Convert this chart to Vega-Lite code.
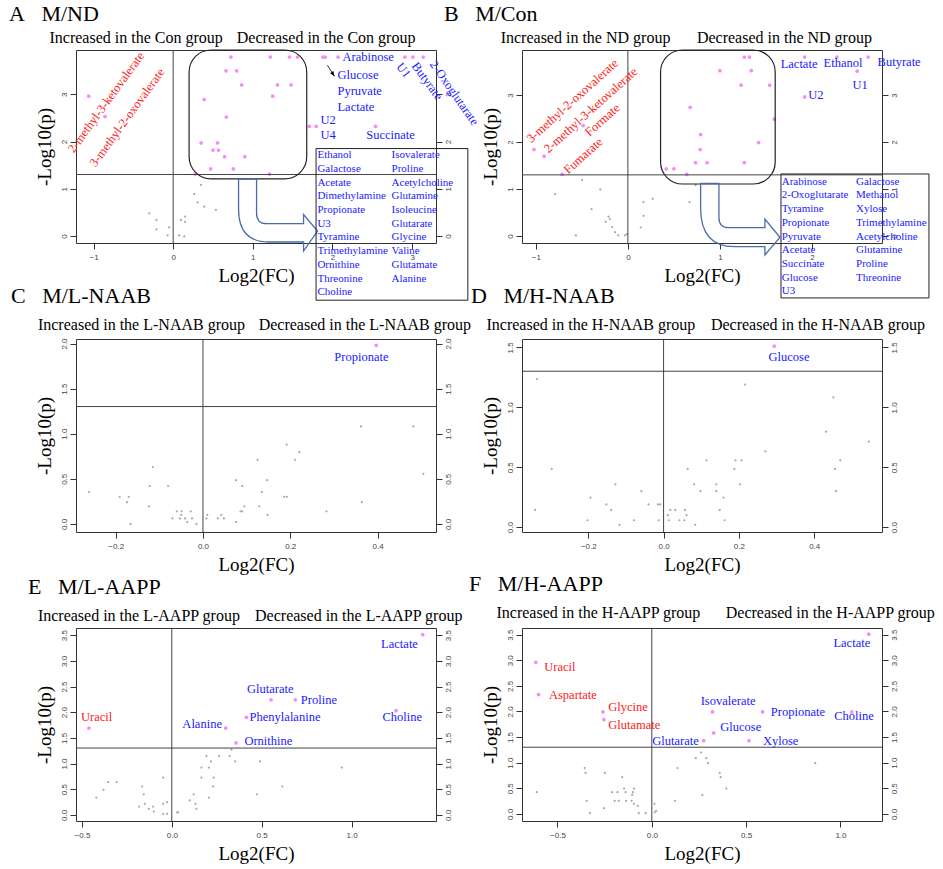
{
"$schema": "https://vega.github.io/schema/vega-lite/v6.json",
"background": "white",
"padding": {"left": 8, "top": 2, "right": 0, "bottom": 0},
"columns": 2,
"bounds": "flush",
"spacing": {"row": 96, "column": 86},
"datasets": {
"one": [{}],
"A": [
{"x":-1.06,"y":2.96,"s":1},{"x":-0.855,"y":2.53,"s":1},
{"x":0.725,"y":3.79,"s":1},{"x":1.22,"y":3.79,"s":1},{"x":1.46,"y":3.79,"s":1},{"x":1.56,"y":3.79,"s":1},
{"x":0.663,"y":3.5,"s":1},{"x":0.797,"y":3.5,"s":1},
{"x":0.86,"y":3.2,"s":1},{"x":1.31,"y":3.2,"s":1},{"x":1.48,"y":3.2,"s":1},
{"x":0.39,"y":2.89,"s":1},{"x":1.25,"y":2.96,"s":1},{"x":0.667,"y":2.52,"s":1},
{"x":0.352,"y":1.97,"s":1},{"x":0.558,"y":1.97,"s":1},{"x":0.5,"y":1.82,"s":1},{"x":0.57,"y":1.82,"s":1},
{"x":0.646,"y":1.68,"s":1},{"x":0.9,"y":1.68,"s":1},{"x":0.47,"y":1.42,"s":1},{"x":0.755,"y":1.42,"s":1},
{"x":1.21,"y":1.31,"s":1},{"x":0.277,"y":1.31,"s":1},
{"x":1.88,"y":3.79,"s":1},{"x":1.91,"y":3.79,"s":1},{"x":2.07,"y":3.79,"s":1},
{"x":2.91,"y":3.79,"s":1},{"x":3.01,"y":3.79,"s":1},{"x":3.14,"y":3.79,"s":1},
{"x":1.71,"y":2.32,"s":1},{"x":1.795,"y":2.32,"s":1},{"x":2.54,"y":2.32,"s":1},
{"x":-0.3,"y":0.48,"s":0},{"x":-0.21,"y":0.34,"s":0},{"x":-0.21,"y":0.14,"s":0},{"x":-0.05,"y":0.18,"s":0},{"x":-0.07,"y":0.01,"s":0},
{"x":0.097,"y":0.34,"s":0},{"x":0.15,"y":0.41,"s":0},{"x":0.15,"y":0.3,"s":0},{"x":0.075,"y":0.01,"s":0},{"x":0.14,"y":-0.01,"s":0},
{"x":0.348,"y":1.08,"s":0},{"x":0.264,"y":0.89,"s":0},{"x":0.306,"y":0.71,"s":0},{"x":0.39,"y":0.62,"s":0},{"x":0.537,"y":0.55,"s":0}
],
"B": [
{"x":-1.02,"y":1.84,"s":1},{"x":-0.91,"y":1.7,"s":1},{"x":-0.486,"y":2.35,"s":1},{"x":-0.714,"y":1.31,"s":1},
{"x":1.265,"y":3.81,"s":1},{"x":1.32,"y":3.81,"s":1},{"x":1.0,"y":3.52,"s":1},{"x":1.34,"y":3.52,"s":1},{"x":1.23,"y":3.21,"s":1},{"x":1.54,"y":3.21,"s":1},
{"x":0.677,"y":2.74,"s":1},{"x":1.59,"y":2.49,"s":1},{"x":0.79,"y":2.16,"s":1},{"x":1.42,"y":1.99,"s":1},{"x":0.785,"y":1.84,"s":1},
{"x":0.735,"y":1.56,"s":1},{"x":0.86,"y":1.56,"s":1},{"x":1.265,"y":1.56,"s":1},{"x":0.417,"y":1.43,"s":1},{"x":0.5,"y":1.43,"s":1},{"x":0.64,"y":1.31,"s":1},
{"x":1.92,"y":3.81,"s":1},{"x":1.92,"y":2.96,"s":1},{"x":2.27,"y":3.81,"s":1},{"x":2.49,"y":3.51,"s":1},{"x":2.61,"y":3.81,"s":1},
{"x":-0.497,"y":1.19,"s":0},{"x":-0.79,"y":0.89,"s":0},{"x":-0.3,"y":0.99,"s":0},{"x":-0.395,"y":0.57,"s":0},{"x":-0.21,"y":0.41,"s":0},
{"x":-0.196,"y":0.36,"s":0},{"x":-0.24,"y":0.3,"s":0},{"x":-0.17,"y":0.19,"s":0},{"x":-0.14,"y":0.08,"s":0},{"x":-0.105,"y":0.01,"s":0},
{"x":-0.03,"y":0.01,"s":0},{"x":-0.01,"y":0.04,"s":0},{"x":-0.565,"y":0.01,"s":0},{"x":0.17,"y":0.72,"s":0},{"x":0.27,"y":0.79,"s":0},
{"x":0.17,"y":0.43,"s":0},{"x":0.14,"y":0.18,"s":0},{"x":0.67,"y":0.72,"s":0},{"x":0.735,"y":1.08,"s":0}
],
"C": [
{"x":0.397,"y":1.98,"s":1,"name":"Propionate"},
{"x":-0.261,"y":0.353,"s":0},{"x":-0.191,"y":0.3,"s":0},{"x":-0.17,"y":0.3,"s":0},{"x":-0.174,"y":0.24,"s":0},{"x":-0.115,"y":0.63,"s":0},
{"x":-0.122,"y":0.42,"s":0},{"x":-0.08,"y":0.42,"s":0},{"x":-0.124,"y":0.195,"s":0},{"x":-0.166,"y":0.0,"s":0},{"x":-0.06,"y":0.14,"s":0},
{"x":-0.049,"y":0.14,"s":0},{"x":-0.028,"y":0.14,"s":0},{"x":-0.05,"y":0.1,"s":0},{"x":-0.07,"y":0.06,"s":0},{"x":-0.053,"y":0.06,"s":0},
{"x":-0.041,"y":0.06,"s":0},{"x":-0.025,"y":0.06,"s":0},{"x":-0.036,"y":0.02,"s":0},{"x":-0.015,"y":0.0,"s":0},{"x":0.01,"y":0.1,"s":0},
{"x":0.008,"y":0.06,"s":0},{"x":0.034,"y":0.06,"s":0},{"x":0.042,"y":0.1,"s":0},{"x":0.048,"y":0.06,"s":0},{"x":0.076,"y":0.02,"s":0},
{"x":0.076,"y":0.485,"s":0},{"x":0.09,"y":0.42,"s":0},{"x":0.086,"y":0.14,"s":0},{"x":0.09,"y":0.14,"s":0},{"x":0.095,"y":0.195,"s":0},
{"x":0.125,"y":0.71,"s":0},{"x":0.135,"y":0.353,"s":0},{"x":0.129,"y":0.195,"s":0},{"x":0.147,"y":0.485,"s":0},{"x":0.148,"y":0.1,"s":0},
{"x":0.186,"y":0.3,"s":0},{"x":0.192,"y":0.3,"s":0},{"x":0.192,"y":0.88,"s":0},{"x":0.211,"y":0.71,"s":0},{"x":0.221,"y":0.795,"s":0},
{"x":0.283,"y":0.14,"s":0},{"x":0.362,"y":1.08,"s":0},{"x":0.364,"y":0.24,"s":0},{"x":0.482,"y":1.08,"s":0},{"x":0.505,"y":0.555,"s":0}
],
"D": [
{"x":0.294,"y":1.51,"s":1,"name":"Glucose"},
{"x":-0.336,"y":1.236,"s":0},{"x":-0.297,"y":0.486,"s":0},{"x":-0.341,"y":0.144,"s":0},{"x":-0.202,"y":0.058,"s":0},{"x":-0.194,"y":0.247,"s":0},
{"x":-0.152,"y":0.19,"s":0},{"x":-0.139,"y":0.144,"s":0},{"x":-0.128,"y":0.358,"s":0},{"x":-0.117,"y":0.02,"s":0},{"x":-0.079,"y":0.058,"s":0},
{"x":-0.059,"y":0.3,"s":0},{"x":-0.04,"y":0.19,"s":0},{"x":-0.015,"y":0.19,"s":0},{"x":-0.009,"y":0.19,"s":0},{"x":-0.013,"y":0.058,"s":0},
{"x":0.011,"y":0.1,"s":0},{"x":0.014,"y":0.058,"s":0},{"x":0.018,"y":0.144,"s":0},{"x":0.031,"y":0.144,"s":0},{"x":0.042,"y":0.058,"s":0},
{"x":0.055,"y":0.058,"s":0},{"x":0.057,"y":0.144,"s":0},{"x":0.061,"y":0.1,"s":0},{"x":0.084,"y":0.02,"s":0},{"x":0.064,"y":0.486,"s":0},
{"x":0.081,"y":0.358,"s":0},{"x":0.098,"y":0.3,"s":0},{"x":0.114,"y":0.558,"s":0},{"x":0.14,"y":0.358,"s":0},{"x":0.14,"y":0.3,"s":0},
{"x":0.149,"y":0.144,"s":0},{"x":0.159,"y":0.247,"s":0},{"x":0.162,"y":0.058,"s":0},{"x":0.188,"y":0.486,"s":0},{"x":0.191,"y":0.558,"s":0},
{"x":0.203,"y":0.358,"s":0},{"x":0.207,"y":0.558,"s":0},{"x":0.216,"y":1.19,"s":0},{"x":0.27,"y":0.633,"s":0},{"x":0.431,"y":0.797,"s":0},
{"x":0.451,"y":1.083,"s":0},{"x":0.455,"y":0.486,"s":0},{"x":0.458,"y":0.3,"s":0},{"x":0.469,"y":0.558,"s":0},{"x":0.545,"y":0.714,"s":0}
],
"E": [
{"x":-0.461,"y":1.69,"s":1,"name":"Uracil"},{"x":0.3,"y":1.69,"s":1,"name":"Alanine"},{"x":0.357,"y":1.4,"s":1,"name":"Ornithine"},
{"x":0.415,"y":1.9,"s":1,"name":"Phenylalanine"},{"x":0.552,"y":2.24,"s":1,"name":"Glutarate"},{"x":0.687,"y":2.24,"s":1,"name":"Proline"},
{"x":1.248,"y":2.03,"s":1,"name":"Choline"},{"x":1.396,"y":3.51,"s":1,"name":"Lactate"},
{"x":-0.42,"y":0.337,"s":0},{"x":-0.38,"y":0.487,"s":0},{"x":-0.354,"y":0.637,"s":0},{"x":-0.307,"y":0.637,"s":0},{"x":-0.165,"y":0.552,"s":0},
{"x":-0.156,"y":0.4,"s":0},{"x":-0.182,"y":0.162,"s":0},{"x":-0.15,"y":0.214,"s":0},{"x":-0.128,"y":0.117,"s":0},{"x":-0.104,"y":0.162,"s":0},
{"x":-0.1,"y":0.065,"s":0},{"x":-0.048,"y":0.727,"s":0},{"x":-0.048,"y":0.214,"s":0},{"x":-0.026,"y":0.247,"s":0},{"x":-0.048,"y":0.02,"s":0},
{"x":-0.026,"y":0.02,"s":0},{"x":0.03,"y":0.05,"s":0},{"x":0.035,"y":0.05,"s":0},{"x":0.1,"y":0.28,"s":0},{"x":0.122,"y":0.4,"s":0},
{"x":0.132,"y":0.214,"s":0},{"x":0.137,"y":0.117,"s":0},{"x":0.165,"y":0.922,"s":0},{"x":0.165,"y":0.727,"s":0},{"x":0.193,"y":1.144,"s":0},
{"x":0.206,"y":0.922,"s":0},{"x":0.206,"y":0.337,"s":0},{"x":0.218,"y":1.04,"s":0},{"x":0.233,"y":0.727,"s":0},{"x":0.23,"y":0.552,"s":0},
{"x":0.263,"y":1.144,"s":0},{"x":0.322,"y":1.144,"s":0},{"x":0.332,"y":1.27,"s":0},{"x":0.352,"y":1.04,"s":0},{"x":0.474,"y":0.4,"s":0},
{"x":0.491,"y":1.04,"s":0},{"x":0.615,"y":0.552,"s":0},{"x":0.946,"y":0.922,"s":0}
],
"F": [
{"x":-0.615,"y":2.96,"s":1,"name":"Uracil"},{"x":-0.6,"y":2.33,"s":1,"name":"Aspartate"},{"x":-0.259,"y":1.99,"s":1,"name":"Glycine"},
{"x":-0.254,"y":1.84,"s":1,"name":"Glutamate"},{"x":0.275,"y":1.43,"s":1,"name":"Glutarate"},{"x":0.321,"y":1.99,"s":1,"name":"Isovalerate"},
{"x":0.328,"y":1.58,"s":1,"name":"Glucose"},{"x":0.515,"y":1.43,"s":1,"name":"Xylose"},{"x":0.587,"y":1.99,"s":1,"name":"Propionate"},
{"x":1.06,"y":1.99,"s":1,"name":"Choline"},{"x":1.15,"y":3.51,"s":1,"name":"Lactate"},
{"x":-0.61,"y":0.424,"s":0},{"x":-0.356,"y":0.893,"s":0},{"x":-0.351,"y":0.8,"s":0},{"x":-0.345,"y":0.254,"s":0},{"x":-0.328,"y":0.013,"s":0},
{"x":-0.254,"y":0.11,"s":0},{"x":-0.249,"y":0.8,"s":0},{"x":-0.21,"y":0.424,"s":0},{"x":-0.197,"y":0.254,"s":0},{"x":-0.182,"y":0.424,"s":0},
{"x":-0.175,"y":0.254,"s":0},{"x":-0.157,"y":0.717,"s":0},{"x":-0.147,"y":0.494,"s":0},{"x":-0.139,"y":0.424,"s":0},{"x":-0.136,"y":0.254,"s":0},
{"x":-0.107,"y":0.254,"s":0},{"x":-0.104,"y":0.37,"s":0},{"x":-0.1,"y":0.424,"s":0},{"x":-0.094,"y":0.494,"s":0},{"x":-0.095,"y":0.195,"s":0},
{"x":-0.074,"y":0.156,"s":0},{"x":-0.069,"y":0.013,"s":0},{"x":-0.033,"y":0.013,"s":0},{"x":0.014,"y":0.195,"s":0},{"x":0.023,"y":0.06,"s":0},
{"x":0.016,"y":0.03,"s":0},{"x":0.122,"y":0.254,"s":0},{"x":0.136,"y":0.893,"s":0},{"x":0.233,"y":1.088,"s":0},{"x":0.261,"y":1.198,"s":0},
{"x":0.268,"y":0.365,"s":0},{"x":0.289,"y":1.088,"s":0},{"x":0.298,"y":0.99,"s":0},{"x":0.36,"y":0.8,"s":0},{"x":0.365,"y":0.717,"s":0},
{"x":0.395,"y":0.494,"s":0},{"x":0.866,"y":0.99,"s":0}
]
},
"concat": [
{
"width": 360, "height": 193,
"title": {"text": "A\u00a0\u00a0\u00a0M/ND", "dx": -67, "offset": 4},
"resolve": {"axis": {"y": "independent"}},
"layer": [
{"data": {"name": "A"}, "transform": [{"filter": "datum.s==0"}], "mark": {"type": "circle", "size": 5, "color": "#a9a9a9", "opacity": 1},
 "encoding": {"x": {"field": "x", "type": "quantitative", "scale": {"domain": [-1.22, 3.3], "nice": false, "zero": false}, "axis": {"title": "Log2(FC)", "values": [-1,0,1,2,3], "format": "d"}},
  "y": {"field": "y", "type": "quantitative", "scale": {"domain": [-0.15, 3.94], "nice": false, "zero": false}, "axis": {"title": "-Log10(p)", "orient": "left", "values": [0,1,2,3], "format": "d", "labelAngle": 270, "labelAlign": "center", "labelBaseline": "bottom"}}}},
{"data": {"name": "A"}, "transform": [{"filter": "datum.s==1"}], "mark": {"type": "circle", "size": 14, "color": "#f78bf7", "opacity": 1},
 "encoding": {"x": {"field": "x", "type": "quantitative"}, "y": {"field": "y", "type": "quantitative", "axis": {"title": null, "orient": "right", "values": [0,1,2,3], "format": "d", "labelAngle": 270, "labelAlign": "center", "labelBaseline": "top"}}}},
{"data": {"name": "one"}, "mark": {"type": "rule", "color": "#444"}, "encoding": {"y": {"datum": 1.301, "axis": null}}},
{"data": {"name": "one"}, "mark": {"type": "rule", "color": "#444"}, "encoding": {"x": {"datum": 0}}},
{"data": {"name": "one"}, "mark": {"type": "rect", "cornerRadius": 22, "fillOpacity": 0, "stroke": "#222", "strokeWidth": 1.2}, "encoding": {"x": {"datum": 0.2}, "x2": {"datum": 1.677}, "y": {"datum": 3.94, "axis": null}, "y2": {"datum": 1.21}}},
{"data": {"name": "one"}, "mark": {"type": "point", "shape": "M0,0L0,30Q0,63 30,63L65,63L65,72L79,52L65,35.5L65,44.7L28,44.7Q18,44.7 18,34L18,0Z", "size": 4, "filled": false, "color": "#4a6ca8", "strokeWidth": 1.3, "opacity": 1}, "encoding": {"x": {"datum": 0.821}, "y": {"datum": 1.206, "axis": null}}},
{"data": {"name": "one"}, "mark": {"type": "rect", "fillOpacity": 0, "stroke": "#222", "strokeWidth": 1}, "encoding": {"x": {"datum": 1.794}, "x2": {"datum": 3.7}, "y": {"datum": 1.851, "axis": null}, "y2": {"datum": -1.362}}},
{"data": {"name": "one"}, "mark": {"type": "text", "color": "#1a1aff", "align": "left", "baseline": "top", "fontSize": 11, "lineHeight": 13.7}, "encoding": {"x": {"datum": 1.811}, "y": {"datum": 1.836, "axis": null}, "text": {"value": ["Ethanol","Galactose","Acetate","Dimethylamine","Propionate","U3","Tyramine","Trimethylamine","Ornithine","Threonine","Choline"]}}},
{"data": {"name": "one"}, "mark": {"type": "text", "color": "#1a1aff", "align": "left", "baseline": "top", "fontSize": 11, "lineHeight": 13.7}, "encoding": {"x": {"datum": 2.742}, "y": {"datum": 1.836, "axis": null}, "text": {"value": ["Isovalerate","Proline","Acetylcholine","Glutamine","Isoleucine","Glutarate","Glycine","Valine","Glutamate","Alanine"]}}},
{"data": {"name": "one"}, "mark": {"type": "text", "fontSize": 16, "color": "black"}, "encoding": {"x": {"datum": -0.465}, "y": {"datum": 4.198, "axis": null}, "text": {"value": "Increased in the Con group"}}},
{"data": {"name": "one"}, "mark": {"type": "text", "fontSize": 16, "color": "black"}, "encoding": {"x": {"datum": 1.92}, "y": {"datum": 4.198, "axis": null}, "text": {"value": "Decreased in the Con group"}}},
{"data": {"name": "one"}, "mark": {"type": "text", "color": "#ff2020", "angle": 306}, "encoding": {"x": {"datum": -0.843}, "y": {"datum": 2.83, "axis": null}, "text": {"value": "2-methyl-3-ketovalerate"}}},
{"data": {"name": "one"}, "mark": {"type": "text", "color": "#ff2020", "angle": 306}, "encoding": {"x": {"datum": -0.579}, "y": {"datum": 2.51, "axis": null}, "text": {"value": "3-methyl-2-oxovalerate"}}},
{"data": {"name": "one"}, "mark": {"type": "text", "color": "#1a1aff", "align": "left"}, "encoding": {"x": {"datum": 2.126}, "y": {"datum": 3.79, "axis": null}, "text": {"value": "Arabinose"}}},
{"data": {"name": "one"}, "mark": {"type": "text", "color": "#1a1aff", "align": "left"}, "encoding": {"x": {"datum": 2.063}, "y": {"datum": 3.4, "axis": null}, "text": {"value": "Glucose"}}},
{"data": {"name": "one"}, "mark": {"type": "text", "color": "#1a1aff", "align": "left"}, "encoding": {"x": {"datum": 2.063}, "y": {"datum": 3.07, "axis": null}, "text": {"value": "Pyruvate"}}},
{"data": {"name": "one"}, "mark": {"type": "text", "color": "#1a1aff", "align": "left"}, "encoding": {"x": {"datum": 2.063}, "y": {"datum": 2.74, "axis": null}, "text": {"value": "Lactate"}}},
{"data": {"name": "one"}, "mark": {"type": "text", "color": "#1a1aff", "align": "left"}, "encoding": {"x": {"datum": 1.849}, "y": {"datum": 2.45, "axis": null}, "text": {"value": "U2"}}},
{"data": {"name": "one"}, "mark": {"type": "text", "color": "#1a1aff", "align": "left"}, "encoding": {"x": {"datum": 1.849}, "y": {"datum": 2.13, "axis": null}, "text": {"value": "U4"}}},
{"data": {"name": "one"}, "mark": {"type": "text", "color": "#1a1aff", "align": "left"}, "encoding": {"x": {"datum": 2.424}, "y": {"datum": 2.13, "axis": null}, "text": {"value": "Succinate"}}},
{"data": {"name": "one"}, "mark": {"type": "text", "color": "#1a1aff", "angle": 52}, "encoding": {"x": {"datum": 2.893}, "y": {"datum": 3.51, "axis": null}, "text": {"value": "U1"}}},
{"data": {"name": "one"}, "mark": {"type": "text", "color": "#1a1aff", "angle": 54}, "encoding": {"x": {"datum": 3.19}, "y": {"datum": 3.28, "axis": null}, "text": {"value": "Butyrate"}}},
{"data": {"name": "one"}, "mark": {"type": "text", "color": "#1a1aff", "angle": 55}, "encoding": {"x": {"datum": 3.53}, "y": {"datum": 3.03, "axis": null}, "text": {"value": "2-Oxoglutarate"}}},
{"data": {"name": "one"}, "mark": {"type": "rule", "color": "black", "strokeWidth": 0.8}, "encoding": {"x": {"datum": 1.937}, "x2": {"datum": 2.025}, "y": {"datum": 3.617, "axis": null}, "y2": {"datum": 3.383}}},
{"data": {"name": "one"}, "mark": {"type": "point", "shape": "M0,0L-1,-5.3L-4.4,-3.1Z", "size": 4, "filled": true, "color": "black", "opacity": 1}, "encoding": {"x": {"datum": 2.025}, "y": {"datum": 3.383, "axis": null}}}
]
},
{
"width": 360, "height": 193,
"title": {"text": "B\u00a0\u00a0\u00a0M/Con", "dx": -78, "offset": 4},
"resolve": {"axis": {"y": "independent"}},
"layer": [
{"data": {"name": "B"}, "transform": [{"filter": "datum.s==0"}], "mark": {"type": "circle", "size": 5, "color": "#a9a9a9", "opacity": 1},
 "encoding": {"x": {"field": "x", "type": "quantitative", "scale": {"domain": [-1.15, 2.76], "nice": false, "zero": false}, "axis": {"title": "Log2(FC)", "values": [-1,0,1,2], "format": "d"}},
  "y": {"field": "y", "type": "quantitative", "scale": {"domain": [-0.15, 3.96], "nice": false, "zero": false}, "axis": {"title": "-Log10(p)", "orient": "left", "values": [0,1,2,3], "format": "d", "labelAngle": 270, "labelAlign": "center", "labelBaseline": "bottom"}}}},
{"data": {"name": "B"}, "transform": [{"filter": "datum.s==1"}], "mark": {"type": "circle", "size": 14, "color": "#f78bf7", "opacity": 1},
 "encoding": {"x": {"field": "x", "type": "quantitative"}, "y": {"field": "y", "type": "quantitative", "axis": {"title": null, "orient": "right", "values": [0,1,2,3], "format": "d", "labelAngle": 270, "labelAlign": "center", "labelBaseline": "top"}}}},
{"data": {"name": "one"}, "mark": {"type": "rule", "color": "#444"}, "encoding": {"y": {"datum": 1.301, "axis": null}}},
{"data": {"name": "one"}, "mark": {"type": "rule", "color": "#444"}, "encoding": {"x": {"datum": 0}}},
{"data": {"name": "one"}, "mark": {"type": "rect", "cornerRadius": 22, "fillOpacity": 0, "stroke": "#222", "strokeWidth": 1.2}, "encoding": {"x": {"datum": 0.355}, "x2": {"datum": 1.6}, "y": {"datum": 3.96, "axis": null}, "y2": {"datum": 1.106}}},
{"data": {"name": "one"}, "mark": {"type": "point", "shape": "M0,0L0,25Q0,63.4 34,63.4L64.3,63.4L64.3,71.7L79.3,54L64.3,35.7L64.3,44.4L28,44.4Q18.3,44.4 18.3,34L18.3,0Z", "size": 4, "filled": false, "color": "#4a6ca8", "strokeWidth": 1.3, "opacity": 1}, "encoding": {"x": {"datum": 0.79}, "y": {"datum": 1.121, "axis": null}}},
{"data": {"name": "one"}, "mark": {"type": "rect", "fillOpacity": 0, "stroke": "#222", "strokeWidth": 1}, "encoding": {"x": {"datum": 1.663}, "x2": {"datum": 3.27}, "y": {"datum": 1.32, "axis": null}, "y2": {"datum": -1.32}}},
{"data": {"name": "one"}, "mark": {"type": "text", "color": "#1a1aff", "align": "left", "baseline": "top", "fontSize": 11, "lineHeight": 13.7}, "encoding": {"x": {"datum": 1.671}, "y": {"datum": 1.283, "axis": null}, "text": {"value": ["Arabinose","2-Oxoglutarate","Tyramine","Propionate","Pyruvate","Acetate","Succinate","Glucose","U3"]}}},
{"data": {"name": "one"}, "mark": {"type": "text", "color": "#1a1aff", "align": "left", "baseline": "top", "fontSize": 11, "lineHeight": 13.7}, "encoding": {"x": {"datum": 2.478}, "y": {"datum": 1.283, "axis": null}, "text": {"value": ["Galactose","Methanol","Xylose","Trimethylamine","Acetylcholine","Glutamine","Proline","Threonine"]}}},
{"data": {"name": "one"}, "mark": {"type": "text", "fontSize": 16, "color": "black"}, "encoding": {"x": {"datum": -0.46}, "y": {"datum": 4.22, "axis": null}, "text": {"value": "Increased in the ND group"}}},
{"data": {"name": "one"}, "mark": {"type": "text", "fontSize": 16, "color": "black"}, "encoding": {"x": {"datum": 1.7}, "y": {"datum": 4.22, "axis": null}, "text": {"value": "Decreased in the ND group"}}},
{"data": {"name": "one"}, "mark": {"type": "text", "color": "#ff2020", "angle": 318}, "encoding": {"x": {"datum": -0.603}, "y": {"datum": 2.877, "axis": null}, "text": {"value": "3-methyl-2-oxovalerate"}}},
{"data": {"name": "one"}, "mark": {"type": "text", "color": "#ff2020", "angle": 318}, "encoding": {"x": {"datum": -0.404}, "y": {"datum": 2.68, "axis": null}, "text": {"value": "2-methyl-3-ketovalerate"}}},
{"data": {"name": "one"}, "mark": {"type": "text", "color": "#ff2020", "angle": 318}, "encoding": {"x": {"datum": -0.277}, "y": {"datum": 2.47, "axis": null}, "text": {"value": "Formate"}}},
{"data": {"name": "one"}, "mark": {"type": "text", "color": "#ff2020", "angle": 318}, "encoding": {"x": {"datum": -0.486}, "y": {"datum": 1.706, "axis": null}, "text": {"value": "Fumarate"}}},
{"data": {"name": "one"}, "mark": {"type": "text", "color": "#1a1aff"}, "encoding": {"x": {"datum": 1.859}, "y": {"datum": 3.66, "axis": null}, "text": {"value": "Lactate"}}},
{"data": {"name": "one"}, "mark": {"type": "text", "color": "#1a1aff"}, "encoding": {"x": {"datum": 2.337}, "y": {"datum": 3.68, "axis": null}, "text": {"value": "Ethanol"}}},
{"data": {"name": "one"}, "mark": {"type": "text", "color": "#1a1aff"}, "encoding": {"x": {"datum": 2.946}, "y": {"datum": 3.7, "axis": null}, "text": {"value": "Butyrate"}}},
{"data": {"name": "one"}, "mark": {"type": "text", "color": "#1a1aff"}, "encoding": {"x": {"datum": 2.522}, "y": {"datum": 3.21, "axis": null}, "text": {"value": "U1"}}},
{"data": {"name": "one"}, "mark": {"type": "text", "color": "#1a1aff"}, "encoding": {"x": {"datum": 2.043}, "y": {"datum": 3.0, "axis": null}, "text": {"value": "U2"}}}
]
},
{
"width": 360, "height": 193,
"title": {"text": "C\u00a0\u00a0\u00a0M/L-NAAB", "dx": -65, "offset": 9},
"resolve": {"axis": {"y": "independent"}},
"layer": [
{"data": {"name": "C"}, "transform": [{"filter": "datum.s==0"}], "mark": {"type": "circle", "size": 5, "color": "#a9a9a9", "opacity": 1},
 "encoding": {"x": {"field": "x", "type": "quantitative", "scale": {"domain": [-0.291, 0.534], "nice": false, "zero": false}, "axis": {"title": "Log2(FC)", "values": [-0.2,0,0.2,0.4], "format": ".1f"}},
  "y": {"field": "y", "type": "quantitative", "scale": {"domain": [-0.09, 2.05], "nice": false, "zero": false}, "axis": {"title": "-Log10(p)", "orient": "left", "values": [0,0.5,1,1.5,2], "format": ".1f", "labelAngle": 270, "labelAlign": "center", "labelBaseline": "bottom"}}}},
{"data": {"name": "C"}, "transform": [{"filter": "datum.s==1"}], "mark": {"type": "circle", "size": 14, "color": "#f78bf7", "opacity": 1},
 "encoding": {"x": {"field": "x", "type": "quantitative"}, "y": {"field": "y", "type": "quantitative", "axis": {"title": null, "orient": "right", "values": [0,0.5,1,1.5,2], "format": ".1f", "labelAngle": 270, "labelAlign": "center", "labelBaseline": "top"}}}},
{"data": {"name": "one"}, "mark": {"type": "rule", "color": "#444"}, "encoding": {"y": {"datum": 1.301, "axis": null}}},
{"data": {"name": "one"}, "mark": {"type": "rule", "color": "#444"}, "encoding": {"x": {"datum": 0}}},
{"data": {"name": "one"}, "mark": {"type": "text", "fontSize": 16, "color": "black"}, "encoding": {"x": {"datum": -0.141}, "y": {"datum": 2.21, "axis": null}, "text": {"value": "Increased in the L-NAAB group"}}},
{"data": {"name": "one"}, "mark": {"type": "text", "fontSize": 16, "color": "black"}, "encoding": {"x": {"datum": 0.371}, "y": {"datum": 2.21, "axis": null}, "text": {"value": "Decreased in the L-NAAB group"}}},
{"data": {"name": "one"}, "mark": {"type": "text", "color": "#1a1aff"}, "encoding": {"x": {"datum": 0.363}, "y": {"datum": 1.854, "axis": null}, "text": {"value": "Propionate"}}}
]
},
{
"width": 360, "height": 193,
"title": {"text": "D\u00a0\u00a0\u00a0M/H-NAAB", "dx": -51, "offset": 9},
"resolve": {"axis": {"y": "independent"}},
"layer": [
{"data": {"name": "D"}, "transform": [{"filter": "datum.s==0"}], "mark": {"type": "circle", "size": 5, "color": "#a9a9a9", "opacity": 1},
 "encoding": {"x": {"field": "x", "type": "quantitative", "scale": {"domain": [-0.376, 0.58], "nice": false, "zero": false}, "axis": {"title": "Log2(FC)", "values": [-0.2,0,0.2,0.4], "format": ".1f"}},
  "y": {"field": "y", "type": "quantitative", "scale": {"domain": [-0.04, 1.57], "nice": false, "zero": false}, "axis": {"title": "-Log10(p)", "orient": "left", "values": [0,0.5,1,1.5], "format": ".1f", "labelAngle": 270, "labelAlign": "center", "labelBaseline": "bottom"}}}},
{"data": {"name": "D"}, "transform": [{"filter": "datum.s==1"}], "mark": {"type": "circle", "size": 14, "color": "#f78bf7", "opacity": 1},
 "encoding": {"x": {"field": "x", "type": "quantitative"}, "y": {"field": "y", "type": "quantitative", "axis": {"title": null, "orient": "right", "values": [0,0.5,1,1.5], "format": ".1f", "labelAngle": 270, "labelAlign": "center", "labelBaseline": "top"}}}},
{"data": {"name": "one"}, "mark": {"type": "rule", "color": "#444"}, "encoding": {"y": {"datum": 1.301, "axis": null}}},
{"data": {"name": "one"}, "mark": {"type": "rule", "color": "#444"}, "encoding": {"x": {"datum": 0}}},
{"data": {"name": "one"}, "mark": {"type": "text", "fontSize": 16, "color": "black"}, "encoding": {"x": {"datum": -0.193}, "y": {"datum": 1.686, "axis": null}, "text": {"value": "Increased in the H-NAAB group"}}},
{"data": {"name": "one"}, "mark": {"type": "text", "fontSize": 16, "color": "black"}, "encoding": {"x": {"datum": 0.41}, "y": {"datum": 1.686, "axis": null}, "text": {"value": "Decreased in the H-NAAB group"}}},
{"data": {"name": "one"}, "mark": {"type": "text", "color": "#1a1aff"}, "encoding": {"x": {"datum": 0.333}, "y": {"datum": 1.42, "axis": null}, "text": {"value": "Glucose"}}}
]
},
{
"width": 360, "height": 193,
"title": {"text": "E\u00a0\u00a0\u00a0M/L-AAPP", "dx": -48, "offset": 9},
"resolve": {"axis": {"y": "independent"}},
"layer": [
{"data": {"name": "E"}, "transform": [{"filter": "datum.s==0"}], "mark": {"type": "circle", "size": 5, "color": "#a9a9a9", "opacity": 1},
 "encoding": {"x": {"field": "x", "type": "quantitative", "scale": {"domain": [-0.533, 1.47], "nice": false, "zero": false}, "axis": {"title": "Log2(FC)", "values": [-0.5,0,0.5,1], "format": ".1f"}},
  "y": {"field": "y", "type": "quantitative", "scale": {"domain": [-0.12, 3.64], "nice": false, "zero": false}, "axis": {"title": "-Log10(p)", "orient": "left", "values": [0,0.5,1,1.5,2,2.5,3,3.5], "format": ".1f", "labelAngle": 270, "labelAlign": "center", "labelBaseline": "bottom"}}}},
{"data": {"name": "E"}, "transform": [{"filter": "datum.s==1"}], "mark": {"type": "circle", "size": 14, "color": "#f78bf7", "opacity": 1},
 "encoding": {"x": {"field": "x", "type": "quantitative"}, "y": {"field": "y", "type": "quantitative", "axis": {"title": null, "orient": "right", "values": [0,0.5,1,1.5,2,2.5,3,3.5], "format": ".1f", "labelAngle": 270, "labelAlign": "center", "labelBaseline": "top"}}}},
{"data": {"name": "one"}, "mark": {"type": "rule", "color": "#444"}, "encoding": {"y": {"datum": 1.301, "axis": null}}},
{"data": {"name": "one"}, "mark": {"type": "rule", "color": "#444"}, "encoding": {"x": {"datum": 0}}},
{"data": {"name": "one"}, "mark": {"type": "text", "fontSize": 16, "color": "black"}, "encoding": {"x": {"datum": -0.183}, "y": {"datum": 3.87, "axis": null}, "text": {"value": "Increased in the L-AAPP group"}}},
{"data": {"name": "one"}, "mark": {"type": "text", "fontSize": 16, "color": "black"}, "encoding": {"x": {"datum": 1.04}, "y": {"datum": 3.87, "axis": null}, "text": {"value": "Decreased in the L-AAPP group"}}},
{"data": {"name": "one"}, "mark": {"type": "text", "color": "#ff2020"}, "encoding": {"x": {"datum": -0.418}, "y": {"datum": 1.904, "axis": null}, "text": {"value": "Uracil"}}},
{"data": {"name": "one"}, "mark": {"type": "text", "color": "#1a1aff", "align": "right"}, "encoding": {"x": {"datum": 0.279}, "y": {"datum": 1.774, "axis": null}, "text": {"value": "Alanine"}}},
{"data": {"name": "one"}, "mark": {"type": "text", "color": "#1a1aff", "align": "left"}, "encoding": {"x": {"datum": 0.404}, "y": {"datum": 1.429, "axis": null}, "text": {"value": "Ornithine"}}},
{"data": {"name": "one"}, "mark": {"type": "text", "color": "#1a1aff", "align": "left"}, "encoding": {"x": {"datum": 0.433}, "y": {"datum": 1.897, "axis": null}, "text": {"value": "Phenylalanine"}}},
{"data": {"name": "one"}, "mark": {"type": "text", "color": "#1a1aff"}, "encoding": {"x": {"datum": 0.548}, "y": {"datum": 2.456, "axis": null}, "text": {"value": "Glutarate"}}},
{"data": {"name": "one"}, "mark": {"type": "text", "color": "#1a1aff", "align": "left"}, "encoding": {"x": {"datum": 0.718}, "y": {"datum": 2.236, "axis": null}, "text": {"value": "Proline"}}},
{"data": {"name": "one"}, "mark": {"type": "text", "color": "#1a1aff"}, "encoding": {"x": {"datum": 1.282}, "y": {"datum": 1.904, "axis": null}, "text": {"value": "Choline"}}},
{"data": {"name": "one"}, "mark": {"type": "text", "color": "#1a1aff"}, "encoding": {"x": {"datum": 1.267}, "y": {"datum": 3.32, "axis": null}, "text": {"value": "Lactate"}}}
]
},
{
"width": 360, "height": 193,
"title": {"text": "F\u00a0\u00a0\u00a0M/H-AAPP", "dx": -53, "offset": 9},
"resolve": {"axis": {"y": "independent"}},
"layer": [
{"data": {"name": "F"}, "transform": [{"filter": "datum.s==0"}], "mark": {"type": "circle", "size": 5, "color": "#a9a9a9", "opacity": 1},
 "encoding": {"x": {"field": "x", "type": "quantitative", "scale": {"domain": [-0.688, 1.22], "nice": false, "zero": false}, "axis": {"title": "Log2(FC)", "values": [-0.5,0,0.5,1], "format": ".1f"}},
  "y": {"field": "y", "type": "quantitative", "scale": {"domain": [-0.14, 3.63], "nice": false, "zero": false}, "axis": {"title": "-Log10(p)", "orient": "left", "values": [0,0.5,1,1.5,2,2.5,3,3.5], "format": ".1f", "labelAngle": 270, "labelAlign": "center", "labelBaseline": "bottom"}}}},
{"data": {"name": "F"}, "transform": [{"filter": "datum.s==1"}], "mark": {"type": "circle", "size": 14, "color": "#f78bf7", "opacity": 1},
 "encoding": {"x": {"field": "x", "type": "quantitative"}, "y": {"field": "y", "type": "quantitative", "axis": {"title": null, "orient": "right", "values": [0,0.5,1,1.5,2,2.5,3,3.5], "format": ".1f", "labelAngle": 270, "labelAlign": "center", "labelBaseline": "top"}}}},
{"data": {"name": "one"}, "mark": {"type": "rule", "color": "#444"}, "encoding": {"y": {"datum": 1.301, "axis": null}}},
{"data": {"name": "one"}, "mark": {"type": "rule", "color": "#444"}, "encoding": {"x": {"datum": 0}}},
{"data": {"name": "one"}, "mark": {"type": "text", "fontSize": 16, "color": "black"}, "encoding": {"x": {"datum": -0.283}, "y": {"datum": 3.92, "axis": null}, "text": {"value": "Increased in the H-AAPP group"}}},
{"data": {"name": "one"}, "mark": {"type": "text", "fontSize": 16, "color": "black"}, "encoding": {"x": {"datum": 0.946}, "y": {"datum": 3.92, "axis": null}, "text": {"value": "Decreased in the H-AAPP group"}}},
{"data": {"name": "one"}, "mark": {"type": "text", "color": "#ff2020", "align": "left"}, "encoding": {"x": {"datum": -0.57}, "y": {"datum": 2.877, "axis": null}, "text": {"value": "Uracil"}}},
{"data": {"name": "one"}, "mark": {"type": "text", "color": "#ff2020", "align": "left"}, "encoding": {"x": {"datum": -0.545}, "y": {"datum": 2.324, "axis": null}, "text": {"value": "Aspartate"}}},
{"data": {"name": "one"}, "mark": {"type": "text", "color": "#ff2020", "align": "left"}, "encoding": {"x": {"datum": -0.231}, "y": {"datum": 2.084, "axis": null}, "text": {"value": "Glycine"}}},
{"data": {"name": "one"}, "mark": {"type": "text", "color": "#ff2020", "align": "left"}, "encoding": {"x": {"datum": -0.231}, "y": {"datum": 1.738, "axis": null}, "text": {"value": "Glutamate"}}},
{"data": {"name": "one"}, "mark": {"type": "text", "color": "#1a1aff", "align": "right"}, "encoding": {"x": {"datum": 0.249}, "y": {"datum": 1.426, "axis": null}, "text": {"value": "Glutarate"}}},
{"data": {"name": "one"}, "mark": {"type": "text", "color": "#1a1aff"}, "encoding": {"x": {"datum": 0.404}, "y": {"datum": 2.207, "axis": null}, "text": {"value": "Isovalerate"}}},
{"data": {"name": "one"}, "mark": {"type": "text", "color": "#1a1aff", "align": "left"}, "encoding": {"x": {"datum": 0.363}, "y": {"datum": 1.705, "axis": null}, "text": {"value": "Glucose"}}},
{"data": {"name": "one"}, "mark": {"type": "text", "color": "#1a1aff", "align": "left"}, "encoding": {"x": {"datum": 0.589}, "y": {"datum": 1.426, "axis": null}, "text": {"value": "Xylose"}}},
{"data": {"name": "one"}, "mark": {"type": "text", "color": "#1a1aff", "align": "left"}, "encoding": {"x": {"datum": 0.631}, "y": {"datum": 1.986, "axis": null}, "text": {"value": "Propionate"}}},
{"data": {"name": "one"}, "mark": {"type": "text", "color": "#1a1aff"}, "encoding": {"x": {"datum": 1.072}, "y": {"datum": 1.914, "axis": null}, "text": {"value": "Choline"}}},
{"data": {"name": "one"}, "mark": {"type": "text", "color": "#1a1aff"}, "encoding": {"x": {"datum": 1.06}, "y": {"datum": 3.334, "axis": null}, "text": {"value": "Lactate"}}}
]
}
],
"config": {
"view": {"stroke": "#333", "strokeWidth": 1},
"axis": {"grid": false, "domain": false, "labelFont": "Liberation Sans", "labelFontSize": 8, "labelColor": "#444", "tickColor": "#333", "tickSize": 6, "titleFont": "Liberation Serif", "titleFontSize": 19, "titleFontWeight": "normal", "titleColor": "black"},
"axisX": {"labelPadding": 4, "titlePadding": 5, "labelAngle": 0},
"axisY": {"labelPadding": 2, "titlePadding": 6},
"title": {"font": "Liberation Serif", "fontSize": 22, "fontWeight": "normal", "color": "black", "anchor": "start", "frame": "group"},
"text": {"font": "Liberation Serif", "fontSize": 12.5}
}
}
